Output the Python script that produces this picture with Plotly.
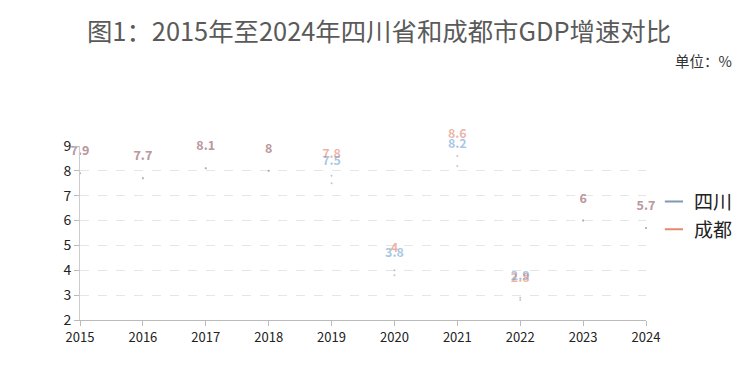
import plotly.graph_objects as go

years = [2015, 2016, 2017, 2018, 2019, 2020, 2021, 2022, 2023, 2024]
sichuan = [7.9, 7.7, 8.1, 8.0, 7.5, 3.8, 8.2, 2.9, 6.0, 5.7]
chengdu = [7.9, 7.7, 8.1, 8.0, 7.8, 4.0, 8.6, 2.8, 6.0, 5.7]
y_ticks = [2, 3, 4, 5, 6, 7, 8, 9]

FONT = "Noto Sans CJK SC"

def fmt(v):
    return ("%g" % v)

fig = go.Figure()

series = [
    ("四川", sichuan, "rgba(80,145,205,0.52)", "#7f9ab5"),
    ("成都", chengdu, "rgba(215,105,80,0.5)", "#e58a6e"),
]

for name, vals, label_col, line_col in series:
    fig.add_trace(go.Scatter(
        x=years, y=vals, mode="markers",
        marker=dict(size=2, color="rgba(150,160,170,0.6)"),
        showlegend=False, hoverinfo="skip", cliponaxis=False,
    ))
    fig.add_trace(go.Scatter(
        x=years, y=vals, mode="markers+text",
        marker=dict(size=22, color="rgba(0,0,0,0)"),
        text=[fmt(v) for v in vals], textposition="top center",
        textfont=dict(family=FONT, size=12.5, color=label_col, weight="bold"),
        showlegend=False, hoverinfo="skip", cliponaxis=False,
    ))
    fig.add_trace(go.Scatter(
        x=[None], y=[None], mode="markers", name=name,
        marker=dict(symbol="line-ew", size=13, color=line_col,
                    line=dict(color=line_col, width=2)),
    ))

fig.update_layout(
    width=742, height=382,
    margin=dict(l=72, r=102, t=138, b=70),
    paper_bgcolor="white", plot_bgcolor="white",
    font=dict(family=FONT, color="#222"),
    title=dict(text="图1：2015年至2024年四川省和成都市GDP增速对比",
               x=0.5, xanchor="center", y=0.937, yanchor="middle",
               font=dict(size=25.4, color="#5a5a5a", family=FONT)),
    legend=dict(x=1.014, y=0.6, xanchor="left", yanchor="middle",
                font=dict(size=19, color="#222", family=FONT),
                bgcolor="rgba(0,0,0,0)", itemwidth=30, tracegroupgap=2),
    annotations=[dict(text="单位：%", xref="paper", yref="paper",
                      x=1.155, y=1.49, xanchor="right", yanchor="middle",
                      showarrow=False,
                      font=dict(size=14.5, color="#333", family=FONT))],
)

fig.update_xaxes(
    range=[2015, 2024], tickvals=years, ticktext=[str(y) for y in years],
    showgrid=False, showline=True, linecolor="#bbb", linewidth=1,
    ticks="outside", ticklen=5, tickcolor="#bbb",
    tickfont=dict(size=13, color="#222", family=FONT), zeroline=False,
)
fig.update_yaxes(
    range=[2, 9], tickvals=y_ticks,
    showgrid=True, gridcolor="#e6e6e6", griddash="dash", gridwidth=1,
    showline=True, linecolor="#ccc", linewidth=1,
    ticks="outside", ticklen=5, tickcolor="#bbb",
    tickfont=dict(size=14, color="#222", family=FONT), zeroline=False,
)

fig.write_html("out.html")
